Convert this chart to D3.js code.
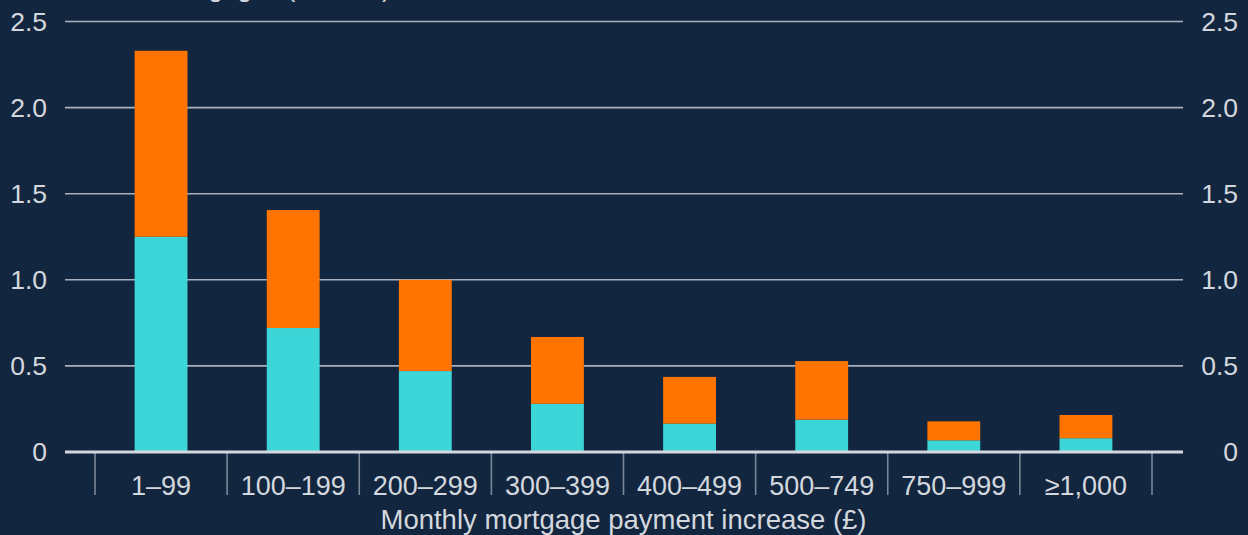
<!DOCTYPE html>
<html><head><meta charset="utf-8">
<script src="https://cdn.jsdelivr.net/npm/d3@7"></script>
<style>
html,body{margin:0;padding:0;background:#13263f;}
svg{display:block;}
text{font-family:"Liberation Sans",Arial,sans-serif;fill:#d3d8de;}
</style></head><body>
<svg id="c" width="1248" height="535"></svg>
<script>
const categories = ["1–99","100–199","200–299","300–399","400–499","500–749","750–999","≥1,000"];
const cyanValues = [1.25,0.72,0.47,0.28,0.165,0.188,0.068,0.08];
const totalValues = [2.33,1.405,1.0,0.668,0.436,0.528,0.178,0.215];
const orangeValues = totalValues.map((t,i)=>t-cyanValues[i]);
const yTicks = [0,0.5,1.0,1.5,2.0,2.5];
const yTickLabels = ["0","0.5","1.0","1.5","2.0","2.5"];
const xTitle = "Monthly mortgage payment increase (£)";
const yTitle = "Number of mortgages (millions)";

const svg = d3.select("#c");
svg.append("rect").attr("width",1248).attr("height",535).attr("fill","#13263f");

const x = d3.scaleBand().domain(categories).range([95,1152]).paddingInner(0.6).paddingOuter(0.3);
const y = d3.scaleLinear().domain([0,2.5]).range([452,21.5]);

// gridlines
svg.append("g").selectAll("line").data(yTicks.filter(d=>d>0)).join("line")
  .attr("x1",65).attr("x2",1183).attr("y1",d=>y(d)).attr("y2",d=>y(d))
  .attr("stroke","#a7b0bc").attr("stroke-width",1.6);

// y labels
svg.append("g").selectAll("text").data(yTicks).join("text")
  .attr("x",47).attr("y",d=>y(d)).attr("dy","0.35em").attr("text-anchor","end")
  .attr("font-size",26.5).text((d,i)=>yTickLabels[i]);
svg.append("g").selectAll("text").data(yTicks).join("text")
  .attr("x",1238).attr("y",d=>y(d)).attr("dy","0.35em").attr("text-anchor","end")
  .attr("font-size",26.5).text((d,i)=>yTickLabels[i]);

// stacked bars
const stackData = categories.map((c,i)=>({cat:c,cyan:cyanValues[i],orange:orangeValues[i]}));
const stack = d3.stack().keys(["cyan","orange"])(stackData);
const colors = {cyan:"#3dd6d8", orange:"#ff7300"};
svg.append("g").selectAll("g").data(stack).join("g")
  .attr("fill",s=>colors[s.key])
  .selectAll("rect").data(s=>s).join("rect")
  .attr("x",d=>x(d.data.cat)).attr("width",x.bandwidth())
  .attr("y",d=>y(d[1])).attr("height",d=>y(d[0])-y(d[1]));

// category boundary ticks
const bounds = d3.range(categories.length+1).map(i=>95 + i*(1152-95)/categories.length);
svg.append("g").selectAll("line").data(bounds).join("line")
  .attr("x1",d=>d).attr("x2",d=>d).attr("y1",452).attr("y2",495)
  .attr("stroke","#7b8797").attr("stroke-width",1.6);

// x axis line
svg.append("line").attr("x1",65).attr("x2",1183).attr("y1",y(0)).attr("y2",y(0))
  .attr("stroke","#d4d8de").attr("stroke-width",3);

// x labels
const xStep = (1152-95)/categories.length;
svg.append("g").selectAll("text").data(categories).join("text")
  .attr("x",(d,i)=>95+xStep*(i+0.5)).attr("y",495).attr("text-anchor","middle")
  .attr("font-size",27).text(d=>d);

// axis titles
svg.append("text").attr("x",(95+1152)/2).attr("y",529).attr("text-anchor","middle")
  .attr("font-size",27.5).text(xTitle);
svg.append("text").attr("x",28).attr("y",-3.5).attr("text-anchor","start")
  .attr("font-size",26).text(yTitle);
</script>
</body></html>
